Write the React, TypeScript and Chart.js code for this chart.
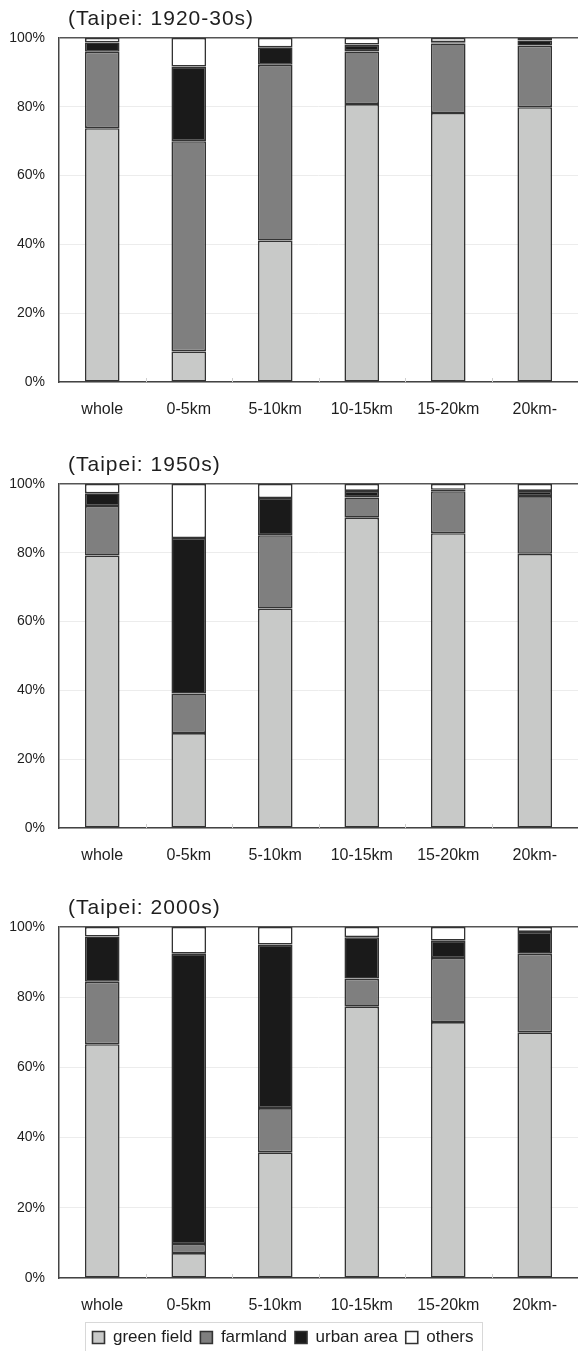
import React, { useEffect, useRef } from "react";
import { Chart, registerables } from "chart.js";

Chart.register(...registerables);

const categories = ["whole", "0-5km", "5-10km", "10-15km", "15-20km", "20km-"];
const seriesNames = ["green field", "farmland", "urban area", "others"];
const yTicks = [0, 20, 40, 60, 80, 100];

const titles = ["(Taipei: 1920-30s)", "(Taipei: 1950s)", "(Taipei: 2000s)"];

// 1920-30s
const green1920 = [73.8, 8.9, 41.1, 80.8, 78.2, 79.9];
const farm1920 = [22.2, 61.1, 51.1, 15.3, 20.2, 17.9];
const urban1920 = [2.7, 21.7, 5.1, 2.0, 0.4, 1.5];
const others1920 = [1.3, 8.3, 2.7, 1.9, 1.2, 0.7];

// 1950s
const green1950 = [79.2, 27.6, 63.8, 90.2, 85.7, 79.7];
const farm1950 = [14.4, 11.5, 21.3, 5.9, 12.2, 16.8];
const urban1950 = [3.7, 45.2, 10.8, 1.9, 0.4, 1.5];
const others1950 = [2.7, 15.7, 4.1, 2.0, 1.7, 2.0];

// 2000s
const green2000 = [66.6, 7.1, 35.8, 77.3, 72.9, 70.0];
const farm2000 = [17.8, 2.6, 12.6, 8.0, 18.3, 22.4];
const urban2000 = [12.9, 82.7, 46.6, 11.8, 4.9, 6.2];
const others2000 = [2.7, 7.6, 5.0, 2.9, 3.9, 1.4];

const colors = ["#c8c9c8", "#7f7f7f", "#1a1a1a", "#ffffff"];
const FONT = '"Liberation Sans", Arial, sans-serif';
const LEGEND_SHIFT = 6;

const panelPlugin = {
  id: "panelDecor",
  afterLayout(chart: any, _args: any, opts: any) {
    if (opts.legendFrame && chart.legend) {
      chart.legend.right -= LEGEND_SHIFT * 2;
    }
  },
  afterDraw(chart: any, _args: any, opts: any) {
    const { ctx, chartArea } = chart;
    ctx.save();
    // title
    ctx.font = `21px ${FONT}`;
    try { (ctx as any).letterSpacing = "1px"; } catch (e) {}
    ctx.fillStyle = "#1e1e1e";
    ctx.textBaseline = "middle";
    ctx.textAlign = "left";
    ctx.fillText(opts.text, chartArea.left + 9, chartArea.top - 19);
    try { (ctx as any).letterSpacing = "0px"; } catch (e) {}
    // small inward ticks between categories
    const xs = chart.scales.x;
    ctx.strokeStyle = "#cfcfcf";
    ctx.lineWidth = 1;
    for (let i = 1; i < categories.length; i++) {
      const x = (xs.getPixelForValue(i - 1) + xs.getPixelForValue(i)) / 2;
      ctx.beginPath();
      ctx.moveTo(Math.round(x) + 0.5, chartArea.bottom);
      ctx.lineTo(Math.round(x) + 0.5, chartArea.bottom - 4);
      ctx.stroke();
    }
    // legend frame
    if (opts.legendFrame && chart.legend && chart.legend.legendHitBoxes && chart.legend.legendHitBoxes.length) {
      const boxes = chart.legend.legendHitBoxes;
      let l = Infinity, r = -Infinity, t = Infinity, b = -Infinity;
      boxes.forEach((h: any) => {
        l = Math.min(l, h.left);
        r = Math.max(r, h.left + h.width);
        t = Math.min(t, h.top);
        b = Math.max(b, h.top + h.height);
      });
      ctx.strokeStyle = "#d8d8d8";
      ctx.lineWidth = 1;
      ctx.strokeRect(Math.round(l - 7) + 0.5, Math.round(t - 7) + 0.5, Math.round(r - l + 16), Math.round(b - t + 24));
    }
    ctx.restore();
  },
};

function Panel({ title, green, farm, urban, others, top, height, legend }: any) {
  const ref = useRef<HTMLCanvasElement>(null);
  useEffect(() => {
    const values = [green, farm, urban, others];
    const chart = new Chart(ref.current as HTMLCanvasElement, {
      type: "bar",
      data: {
        labels: categories,
        datasets: seriesNames.map((name, i) => ({
          label: name,
          data: values[i],
          backgroundColor: colors[i],
          borderColor: "#333",
          borderWidth: 1.6,
          borderSkipped: false,
          categoryPercentage: 1,
          barPercentage: 0.4,
        })),
      },
      options: {
        animation: false,
        responsive: true,
        maintainAspectRatio: false,
        layout: { padding: { top: 38, left: 0, right: 0, bottom: 0 } },
        plugins: {
          title: { display: false },
          tooltip: { enabled: false },
          legend: {
            display: !!legend,
            position: "bottom",
            align: "center",
            labels: {
              boxWidth: 12,
              boxHeight: 12,
              padding: 8,
              color: "#1e1e1e",
              font: { family: FONT, size: 17 },
            },
          },
          panelDecor: { text: title, legendFrame: !!legend },
        } as any,
        scales: {
          x: {
            stacked: true,
            grid: { display: false, drawTicks: false },
            border: { display: true, color: "#444", width: 1.5 },
            ticks: { color: "#1e1e1e", padding: 18, font: { family: FONT, size: 16 }, maxRotation: 0, autoSkip: false },
            afterFit: (axis: any) => { axis.height = 43; },
          },
          y: {
            stacked: true,
            min: 0,
            max: 100,
            afterBuildTicks: (axis: any) => { axis.ticks = yTicks.map((v) => ({ value: v })); },
            grid: {
              drawTicks: false,
              color: (c: any) => (c.tick && c.tick.value === 100 ? "#555" : "#ececec"),
              lineWidth: (c: any) => (c.tick && c.tick.value === 100 ? 1.5 : 1),
            },
            border: { display: true, color: "#444", width: 1.5 },
            ticks: {
              color: "#1e1e1e",
              padding: 14,
              font: { family: FONT, size: 14 },
              callback: (v: any) => v + "%",
            },
            afterFit: (axis: any) => { axis.width = 59; },
          },
        },
      },
      plugins: [panelPlugin],
    } as any);
    return () => chart.destroy();
  }, []);
  return (
    <div style={{ position: "absolute", left: 0, top, width: 578, height }}>
      <canvas ref={ref} />
    </div>
  );
}

export default function App() {
  return (
    <div style={{ position: "absolute", left: 0, top: 0, width: 578, height: 1351, overflow: "hidden", background: "#fff" }}>
      <Panel title={titles[0]} green={green1920} farm={farm1920} urban={urban1920} others={others1920} top={0} height={425} />
      <Panel title={titles[1]} green={green1950} farm={farm1950} urban={urban1950} others={others1950} top={446} height={425} />
      <Panel title={titles[2]} green={green2000} farm={farm2000} urban={urban2000} others={others2000} top={889} height={467} legend />
    </div>
  );
}
